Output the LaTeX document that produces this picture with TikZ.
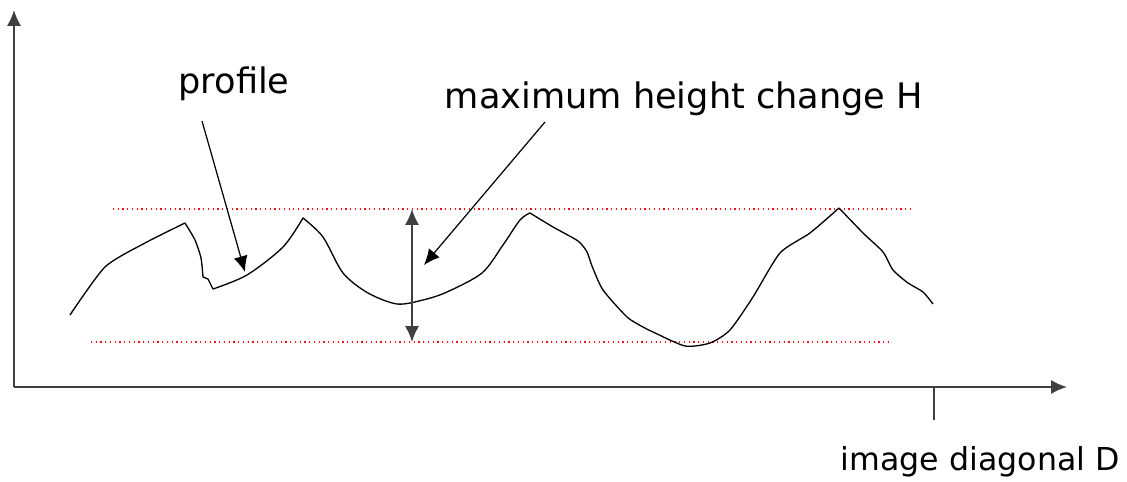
\documentclass[tikz,border=0pt]{standalone}
\usepackage{fontspec}
\setmainfont{DejaVu Sans}
\usetikzlibrary{arrows.meta}
\definecolor{axisgray}{RGB}{64,64,64}
\definecolor{limred}{RGB}{235,20,20}

\begin{document}
\begin{tikzpicture}[x=0.02cm, y=-0.02cm,
  axis/.style={draw=axisgray, line width=1.1pt, -{Latex[length=9pt,width=8pt]}},
  limit/.style={draw=limred, line width=0.7pt, dotted},
  pointer/.style={draw=black, line width=0.7pt, -{Latex[length=9pt,width=8pt]}},
  label/.style={font=\fontsize{20}{24}\selectfont, inner sep=0pt}]
\useasboundingbox (0,0) rectangle (1127,482);

%axes
\coordinate (O) at (14,387);
\coordinate (ytop) at (14,10);
\coordinate (xend) at (1067,387);
\draw[axis] (O) -- (ytop);
\draw[axis] (O) -- (xend);
\coordinate (tickA) at (934,387);
\coordinate (tickB) at (934,420);
\draw[axisgray, line width=1.1pt] (tickA) -- (tickB);

%limits
\coordinate (hiL) at (113,209);
\coordinate (hiR) at (911,209);
\coordinate (loL) at (91,342);
\coordinate (loR) at (888,342);
\draw[limit] (hiL) -- (hiR);
\draw[limit] (loL) -- (loR);

%profile
\draw[line width=0.75pt, line join=round]
  plot[smooth, tension=0.4] coordinates {(70,315) (105,267) (145,243) (185,223)}
  -- plot[smooth, tension=0.4] coordinates {(185,223) (195,240) (201,258) (203,277)}
  -- (208,279) -- (213,289)
  -- plot[smooth, tension=0.5] coordinates {(213,289) (247,275) (283,247) (303,218)}
  -- plot[smooth, tension=0.5] coordinates {(303,218) (323,237) (343,273) (368,293) (397,304) (423,300) (447,292) (482,273) (503,245) (520,220) (530,213)}
  -- plot[smooth, tension=0.4] coordinates {(530,213) (553,227) (578,241) (587,252) (592,266) (603,290) (627,317) (643,327) (653,332) (685,346) (710,343) (730,330) (753,297) (780,253) (810,233) (839,208)}
  -- plot[smooth, tension=0.4] coordinates {(839,208) (863,233) (883,252) (893,270) (908,283) (923,292) (933,304)};

%height arrow
\coordinate (hA) at (412,209);
\coordinate (hB) at (412,342);
\draw[draw=axisgray, line width=1.1pt, {Latex[length=9pt,width=8pt]}-{Latex[length=9pt,width=8pt]}] (hA) -- (hB);

%labels
\node[label] (profile) at (234,84) {profile};
\node[label] (maxh) at (684,99) {maximum height change H};
\node[label, font=\fontsize{18}{22}\selectfont, anchor=east] (diag) at (1120,462) {image diagonal D};

\coordinate (pfrom) at (202,121);
\coordinate (pto) at (245,272);
\draw[pointer] (pfrom) -- (pto);
\coordinate (mfrom) at (545,122);
\coordinate (mto) at (424,265);
\draw[pointer] (mfrom) -- (mto);

\end{tikzpicture}
\end{document}
